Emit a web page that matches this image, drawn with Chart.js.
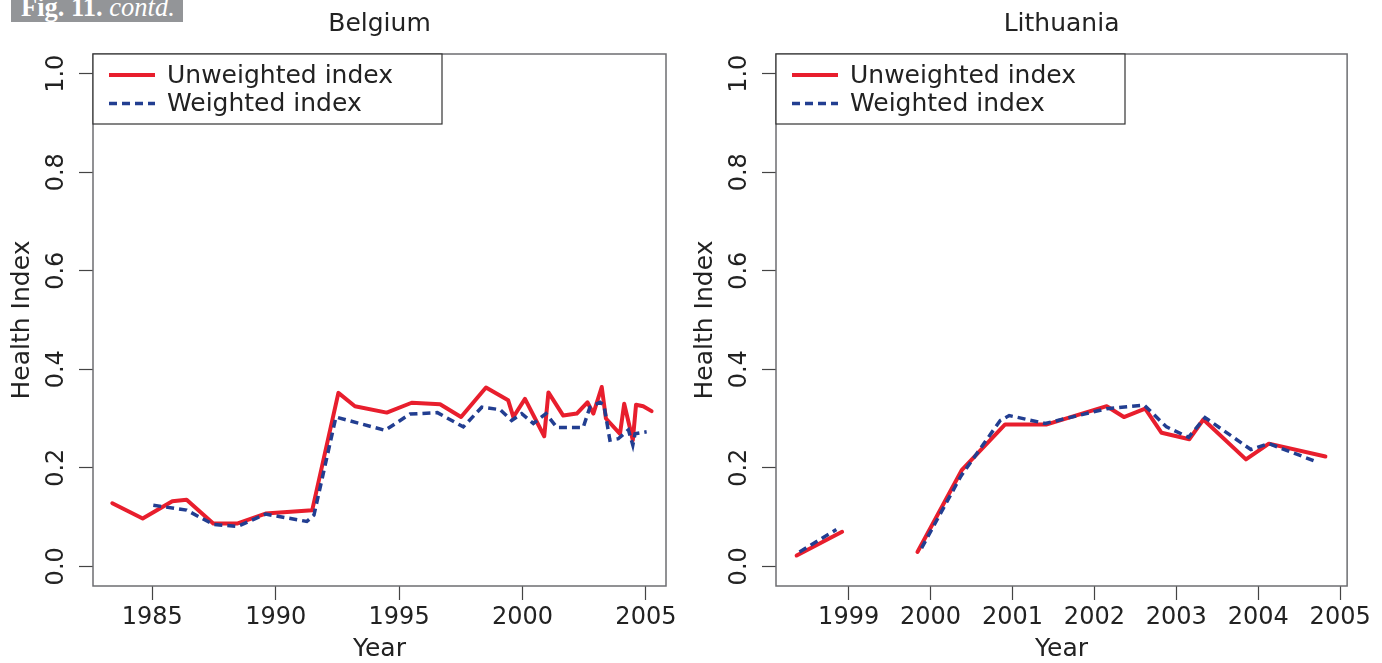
<!DOCTYPE html>
<html><head><meta charset="utf-8">
<script src="https://cdn.jsdelivr.net/npm/chart.js@4.4.1/dist/chart.umd.min.js"></script>
<style>
html,body{margin:0;padding:0;background:#fff;width:1382px;height:663px;overflow:hidden;position:relative;}
canvas{position:absolute;top:0;}
#c1{left:0}
#c2{left:683px}
#fig{position:absolute;left:11px;top:0;width:172px;height:22px;background:#939598;color:#fff;font-family:"Liberation Serif",serif;font-size:26.5px;white-space:nowrap;overflow:hidden;z-index:5}
#fig span{position:absolute;left:10px;top:-8px;line-height:30px}
</style></head><body>
<div id="fig"><span><b>Fig. 11.</b> <i>contd.</i></span></div>
<canvas id="c1" width="691" height="663"></canvas>
<canvas id="c2" width="691" height="663"></canvas>
<script>
// ---------- data ----------
const seriesLabels = ['Unweighted index', 'Weighted index'];
const panelTitles = ['Belgium', 'Lithuania'];
const yTickValues = [0, 0.2, 0.4, 0.6, 0.8, 1.0];
const belgiumYearTicks = [1985, 1990, 1995, 2000, 2005];
const lithuaniaYearTicks = [1999, 2000, 2001, 2002, 2003, 2004, 2005];

const belgiumUnweightedYears = [1983.38,1984.61,1985.81,1986.39,1987.47,1988.46,1989.59,1991.48,1992.54,1993.21,1994.50,1995.51,1996.66,1997.51,1998.52,1999.42,1999.63,2000.10,2000.88,2001.05,2001.65,2002.20,2002.63,2002.87,2003.21,2003.38,2003.95,2004.12,2004.47,2004.60,2004.89,2005.23];
const belgiumUnweightedValues = [0.128,0.097,0.132,0.135,0.087,0.087,0.107,0.114,0.352,0.325,0.312,0.332,0.329,0.303,0.363,0.337,0.303,0.340,0.264,0.353,0.306,0.310,0.333,0.310,0.364,0.300,0.269,0.330,0.256,0.328,0.325,0.315];

const belgiumWeightedYears = [1985.04,1986.39,1987.47,1988.46,1989.59,1991.26,1991.55,1992.44,1994.43,1995.44,1996.55,1997.60,1998.35,1999.09,1999.56,1999.97,2000.44,2000.95,2001.39,2002.46,2002.73,2003.14,2003.30,2003.54,2003.88,2004.29,2004.47,2004.56,2005.03];
const belgiumWeightedValues = [0.124,0.114,0.085,0.081,0.106,0.091,0.104,0.303,0.276,0.309,0.312,0.283,0.323,0.318,0.296,0.310,0.290,0.310,0.282,0.282,0.323,0.333,0.327,0.256,0.259,0.277,0.246,0.269,0.273];

const lithuaniaUnweightedYears = [1998.365,1998.92,1999.4,1999.84,2000.38,2000.91,2001.42,2002.15,2002.36,2002.62,2002.82,2003.16,2003.33,2003.85,2004.13,2004.82];
const lithuaniaUnweightedValues = [0.022,0.070,null,0.029,0.195,0.288,0.288,0.325,0.303,0.320,0.271,0.258,0.298,0.217,0.249,0.223];

const lithuaniaWeightedYears = [1998.40,1998.85,1999.4,1999.89,2000.37,2000.85,2000.96,2001.40,2002.15,2002.61,2002.88,2003.15,2003.35,2003.91,2004.13,2004.70];
const lithuaniaWeightedValues = [0.029,0.0745,null,0.037,0.183,0.296,0.306,0.290,0.320,0.327,0.283,0.262,0.302,0.237,0.249,0.213];

// ---------- styling ----------
const FONT = '"DejaVu Sans", sans-serif';
const RED = 'rgb(232,30,45)';
const BLUE = 'rgb(34,62,145)';
const TEXT = '#222';

function points(xs, ys) { return xs.map((x, i) => ({ x: x, y: ys[i] })); }

const rPlotPlugin = {
  id: 'rplot',
  afterDraw(chart, args, opts) {
    const ctx = chart.ctx, a = chart.chartArea;
    ctx.save();
    // title
    ctx.fillStyle = TEXT;
    ctx.font = '25px ' + FONT;
    ctx.textAlign = 'center';
    ctx.textBaseline = 'middle';
    ctx.fillText(opts.title, (a.left + a.right) / 2, 24);
    // frame
    ctx.strokeStyle = '#6d6e71';
    ctx.lineWidth = 1.5;
    ctx.strokeRect(a.left, a.top, a.right - a.left, a.bottom - a.top);
    // legend
    const x0 = a.left, y0 = a.top, w = 349, h = 70;
    ctx.fillStyle = '#fff';
    ctx.fillRect(x0, y0, w, h);
    ctx.strokeStyle = '#333';
    ctx.lineWidth = 1.2;
    ctx.strokeRect(x0, y0, w, h);
    chart.data.datasets.forEach((ds, i) => {
      const y = y0 + 21 + i * 28.5;
      ctx.strokeStyle = ds.borderColor;
      ctx.lineWidth = ds.borderWidth;
      ctx.lineCap = 'butt';
      ctx.setLineDash(ds.borderDash || []);
      ctx.beginPath(); ctx.moveTo(x0 + 16, y); ctx.lineTo(x0 + 62, y); ctx.stroke();
      ctx.setLineDash([]);
      ctx.fillStyle = TEXT;
      ctx.font = '25px ' + FONT;
      ctx.textAlign = 'left';
      ctx.textBaseline = 'middle';
      ctx.fillText(ds.label, x0 + 74, y + 1);
    });
    ctx.restore();
  }
};

function makeChart(id, title, xmin, xmax, xticks, unwX, unwY, wX, wY) {
  return new Chart(document.getElementById(id), {
    type: 'line',
    data: {
      datasets: [
        { label: seriesLabels[0], data: points(unwX, unwY), borderColor: RED, backgroundColor: RED,
          borderWidth: 4, pointRadius: 0, tension: 0, spanGaps: false, order: 1,
          borderCapStyle: 'round', borderJoinStyle: 'round' },
        { label: seriesLabels[1], data: points(wX, wY), borderColor: BLUE, backgroundColor: BLUE,
          borderWidth: 3.5, borderDash: [8, 5], pointRadius: 0, tension: 0, spanGaps: false, order: 0,
          borderCapStyle: 'butt', borderJoinStyle: 'miter' }
      ]
    },
    options: {
      responsive: false,
      animation: false,
      events: [],
      layout: { padding: { left: 0, right: 25, top: 54, bottom: 0 } },
      plugins: { legend: { display: false }, tooltip: { enabled: false }, rplot: { title: title } },
      scales: {
        x: {
          type: 'linear', min: xmin, max: xmax,
          afterBuildTicks: s => { s.ticks = xticks.map(v => ({ value: v })); },
          afterFit: s => { s.height = 77; },
          ticks: { color: TEXT, font: { family: FONT, size: 24 }, padding: 3, maxRotation: 0,
                   callback: v => String(v) },
          grid: { drawOnChartArea: false, drawTicks: true, tickLength: 14, color: '#444', tickWidth: 1.2 },
          border: { display: false },
          title: { display: true, text: 'Year', color: TEXT, font: { family: FONT, size: 25, lineHeight: 1.05 }, padding: { top: 0, bottom: 0 } }
        },
        y: {
          type: 'linear', min: -0.04, max: 1.04,
          afterBuildTicks: s => { s.ticks = yTickValues.map(v => ({ value: v })); },
          afterFit: s => { s.width = 93; },
          ticks: { color: TEXT, font: { family: FONT, size: 24 }, padding: 3, minRotation: 90, maxRotation: 90,
                   crossAlign: 'center', callback: v => v.toFixed(1) },
          grid: { drawOnChartArea: false, drawTicks: true, tickLength: 14, color: '#444', tickWidth: 1.2 },
          border: { display: false },
          title: { display: true, text: 'Health Index', color: TEXT, font: { family: FONT, size: 25 }, padding: { top: 7, bottom: 0 } }
        }
      }
    },
    plugins: [rPlotPlugin]
  });
}

makeChart('c1', panelTitles[0], 1982.597, 2005.814, belgiumYearTicks,
  belgiumUnweightedYears, belgiumUnweightedValues, belgiumWeightedYears, belgiumWeightedValues);
makeChart('c2', panelTitles[1], 1998.113, 2005.085, lithuaniaYearTicks,
  lithuaniaUnweightedYears, lithuaniaUnweightedValues, lithuaniaWeightedYears, lithuaniaWeightedValues);
</script>
</body></html>
